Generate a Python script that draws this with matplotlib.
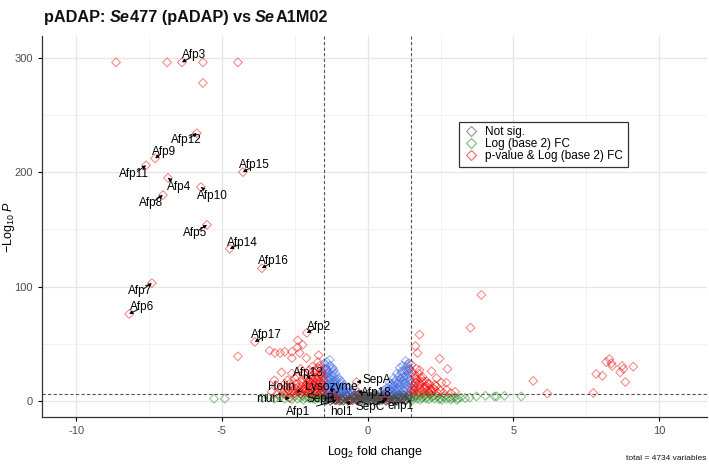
import matplotlib
matplotlib.use("Agg")
import matplotlib.pyplot as plt
from matplotlib.lines import Line2D
from matplotlib.offsetbox import TextArea, HPacker, AnchoredOffsetbox

plt.rcParams['font.family'] = ['Liberation Sans', 'DejaVu Sans']
plt.rcParams['mathtext.fontset'] = 'custom'
plt.rcParams['mathtext.rm'] = 'Liberation Sans'
plt.rcParams['mathtext.it'] = 'Liberation Sans:italic'
plt.rcParams['axes.unicode_minus'] = False

# ---------------- data (log2FC, -log10 P) ----------------
grey_x = [-1.42, -1.12, -0.83, -0.52, -0.21, 0.08, 0.41, 0.72, 1.02, 1.31,
          -1.47, -1.22, -0.94, -0.66, -0.34, -0.06, 0.24, 0.56, 0.86, 1.17, 1.46,
          -1.36, -1.04, -0.77, -0.44, -0.16, 0.17, 0.46, 0.74, 1.06, 1.36,
          -1.41, -1.16, -0.86, -0.55, -0.27, 0.04, 0.36, 0.66, 0.96, 1.26,
          -1.31, -1.01, -0.71, -0.41, -0.12, 0.21, 0.52, 0.81, 1.12, 1.41,
          -1.44, -1.18, -0.91, -0.61, -0.31, 0.01, 0.31, 0.61, 0.92, 1.21,
          -0.05, 0.12, -0.22, 0.28, -0.38, 0.44, -0.6, 0.7, -0.9, 0.95, 1.25, -1.25,
          -0.1, 0.18, -0.3, 0.35, -0.48, 0.58, -0.75, 0.85, -1.05, 1.1, 1.3, -1.35,
          -1.28, -0.97, -0.68, -0.36, -0.02, 0.33, 0.63, 0.98, 1.28, -1.08, -0.58,
          0.14, 0.49, 0.88, 1.19, -0.82, -0.25, 0.27, 0.77, 1.38, -1.46, -0.46,
          -0.14, 0.06, 0.38, -0.7, 0.67, -1.2, 1.05, -0.9, 0.53, -0.33, 0.22, -0.08]
grey_y = [0.5, 0.8, 0.4, 0.7, 0.3, 0.6, 0.5, 0.9, 0.4, 0.7,
          1.6, 1.4, 1.7, 1.3, 1.5, 1.8, 1.4, 1.6, 1.5, 1.3, 1.7,
          2.5, 2.7, 2.4, 2.6, 2.3, 2.8, 2.5, 2.4, 2.6, 2.7,
          3.5, 3.3, 3.7, 3.4, 3.6, 3.5, 3.2, 3.8, 3.4, 3.6,
          4.5, 4.7, 4.3, 4.6, 4.4, 4.8, 4.5, 4.2, 4.6, 4.4,
          5.5, 5.3, 5.7, 5.4, 5.6, 5.5, 5.2, 5.8, 5.4, 5.6,
          0.2, 1.0, 2.0, 3.0, 1.2, 2.2, 0.9, 3.1, 2.1, 1.1, 5.0, 4.0,
          4.9, 3.9, 5.9, 4.1, 2.9, 3.9, 5.1, 4.9, 5.0, 3.0, 0.9, 1.9,
          0.1, 0.2, 0.1, 0.3, 0.1, 0.2, 0.1, 0.2, 0.3, 1.0, 1.1,
          1.1, 0.9, 0.8, 2.0, 2.9, 4.2, 3.3, 1.9, 4.9, 3.9, 5.2,
          2.4, 3.8, 1.5, 5.0, 4.4, 2.2, 5.3, 0.7, 3.0, 0.6, 5.6, 2.7]

green_x = [-1.55, -1.6, -1.7, -1.75, -1.8, -1.9, -2.0, -2.1, -2.2, -2.3, -2.4, -2.5,
           -2.6, -2.7, -2.85, -3.0, -3.2, -3.4, -3.6, -5.27, -4.9, -1.65, -1.95, -2.25, -2.8,
           1.55, 1.6, 1.7, 1.75, 1.8, 1.9, 2.0, 2.05, 2.1, 2.2, 2.3, 2.4, 2.5, 2.6, 2.7,
           2.8, 2.9, 3.0, 3.1, 3.2, 3.35, 3.5, 3.73, 4.04, 4.35, 4.42, 4.69, 5.27,
           1.65, 1.95, 2.25, 2.55, 2.85, 3.05, 1.58, 1.85, 2.15, 2.45, -1.58, -1.88, -2.15]
green_y = [1.0, 3.0, 2.0, 4.0, 1.5, 3.0, 2.0, 4.0, 1.0, 3.0, 2.0, 4.0,
           1.5, 3.0, 2.0, 3.5, 2.0, 3.0, 2.5, 2.0, 2.0, 5.0, 5.0, 5.0, 4.5,
           1.0, 3.0, 2.0, 4.5, 1.0, 3.0, 2.0, 4.0, 1.5, 3.0, 2.0, 4.0, 2.5, 3.5, 2.0,
           3.0, 2.5, 3.5, 2.0, 3.0, 2.5, 3.0, 4.0, 4.5, 4.0, 4.0, 4.5, 4.0,
           5.0, 5.0, 4.8, 1.0, 1.2, 1.0, 5.5, 2.5, 5.5, 1.5, 5.5, 2.0, 2.8]

blue_x = [-1.48, -1.45, -1.42, -1.4, -1.38, -1.35, -1.32, -1.3, -1.28, -1.25,
          -1.3, -1.25, -1.2, -1.15, -1.1, -1.05, -1.0, -0.95, -0.9, -1.2,
          -1.1, -1.0, -0.9, -0.8, -0.7, -0.6, -0.5, -1.45, -1.4, -1.35,
          -1.2, -1.15, -1.05, -0.85, -0.75, -1.45, -1.35, -1.25, -1.1, -0.95,
          -0.65, -0.55, -1.4, -1.3, -1.48,
          -1.47, -1.37, -1.27, -1.17, -1.07, -0.97, -0.87, -0.77, -0.67, -1.43,
          -1.33, -1.23, -1.13, -1.03, -0.93, -0.83, -1.46, -1.36, -1.26, -1.16,
          0.45, 0.55, 0.65, 0.75, 0.85, 0.95, 1.05, 1.15, 1.25, 1.35,
          1.42, 1.3, 1.45, 1.4, 1.35, 1.3, 1.25, 1.2, 1.15, 1.0,
          0.9, 0.8, 0.7, 1.1, 1.05, 0.95, 1.2, 1.4, 1.45, 1.45,
          1.38, 1.1, 1.0, 0.9, 0.75, 0.6, 1.3, 1.48, 1.2, 1.1,
          1.47, 1.37, 1.27, 1.17, 1.07, 0.97, 0.87, 0.77, 0.67, 1.43,
          1.33, 1.23, 1.13, 1.03, 0.93, 0.83, 1.46, 1.36, 1.26, 1.16]
blue_y = [33, 30, 27, 24, 21, 18, 15, 12, 9, 7,
          31, 28, 25, 22, 19, 16, 13, 10, 7, 29,
          24, 20, 17, 14, 11, 8, 7, 12, 9, 7,
          16, 11, 8, 9, 7, 20, 25, 19, 14, 18,
          12, 9, 34, 36, 16,
          23, 13, 10, 14, 12, 8, 12, 9, 8, 28,
          20, 22, 17, 11, 15, 11, 11, 27, 15, 27,
          7, 9, 11, 13, 15, 18, 21, 24, 27, 30,
          33, 35, 28, 24, 20, 16, 12, 9, 7, 8,
          10, 8, 7, 12, 15, 13, 18, 12, 8, 18,
          26, 29, 24, 20, 16, 7, 22, 15, 31, 10,
          22, 14, 18, 15, 17, 10, 13, 10, 9, 28,
          27, 21, 20, 11, 16, 12, 11, 32, 15, 26]

red_x = [-8.63, -6.88, -5.65, -4.45, -5.65,
         -4.45, -3.36, -3.18, -3.0, -2.84, -2.6, -2.4, -2.33, -2.4, -2.23, -2.6, -2.1,
         -1.68, -2.95, -1.7, -2.43, -3.15,
         -1.55, -1.6, -1.62, -1.58, -1.65, -1.7, -1.6, -1.55, -1.75, -1.78, -1.8, -1.72,
         -1.85, -1.9, -1.82, -1.95, -1.98, -2.0, -1.92, -2.05, -2.1, -2.15, -2.2, -2.12,
         -2.25, -2.3, -2.35, -2.4, -2.45, -2.5, -2.55, -2.6, -2.65, -2.7, -2.8, -2.9,
         -3.0, -3.1, -3.3, -2.75, -2.5, -2.2, -2.0, -1.65, -1.7, -1.9, -2.3, -2.6,
         -3.2, -2.85, -1.52,
         -1.57, -1.67, -1.77, -1.87, -1.97, -2.07, -2.17, -2.27, -2.37, -1.53, -1.63,
         -1.73, -1.83, -1.93, -2.03, -2.13, -2.23, -1.59, -1.69, -1.79, -1.89, -1.99,
         -2.09, -1.56, -1.66, -1.76, -1.86, -2.47, -2.57, -2.67, -2.77, -2.87,
         1.55, 1.6, 1.58, 1.65, 1.7, 1.62, 1.75, 1.8, 1.78, 1.85, 1.9, 1.95, 2.0, 2.05,
         2.1, 2.15, 2.2, 2.3, 2.4, 2.5, 2.6, 1.52, 1.68, 1.88, 2.12, 2.35, 2.7, 2.85, 3.0,
         1.57, 1.67, 1.77, 1.87, 1.97, 2.07, 2.17, 1.53, 1.63, 1.73, 1.83, 1.93, 2.25,
         1.78, 1.64, 1.71, 2.47, 2.74, 1.5, 1.78, 2.19, 1.75, 2.36, 2.02, 2.53, 2.7, 2.3,
         1.64, 3.9, 3.53, 5.68, 6.16, 7.74, 7.84, 8.05, 8.18, 8.29, 8.36, 8.39, 8.73,
         8.77, 8.66, 8.84, 9.11]
red_y = [296, 296, 296, 296, 278,
         39, 44, 42, 42, 43, 43, 47, 42, 53, 49, 37.5, 37.5,
         40, 25, 29, 21, 14,
         6, 8, 11, 14, 17, 20, 23, 26, 7, 10, 13, 15,
         18, 22, 25, 6, 9, 12, 15, 17, 20, 8, 11, 14,
         16, 6, 9, 12, 15, 7, 10, 13, 6, 9, 12, 7,
         10, 6, 8, 18, 20, 24, 27, 31, 34, 30, 28, 24,
         18, 15, 19,
         9, 12, 16, 11, 14, 7, 10, 13, 8, 21, 24,
         18, 6.5, 19, 8, 11, 19, 16, 9, 20, 8, 17,
         14, 12, 28, 23, 26, 11, 8, 15, 7, 10,
         7, 10, 13, 16, 19, 22, 8, 11, 14, 17, 7, 10, 13, 9,
         7, 11, 8, 10, 7, 9, 7, 25, 28, 21, 15, 13, 10, 7, 8,
         9, 12, 16, 9, 12, 15, 9, 11, 20, 6.5, 20, 17, 11,
         58, 48, 42, 37, 28, 32, 27, 26, 24, 20, 17, 16, 16, 14,
         16, 92.7, 64, 17.5, 6.5, 7, 23.6, 22, 34, 36.7, 33, 30.6, 30.6,
         28, 25, 16.6, 30]

# labelled genes: name, point (FC, -log10P), label position
lab_names = ["Afp3", "Afp12", "Afp9", "Afp11", "Afp15", "Afp4", "Afp10", "Afp8",
             "Afp5", "Afp14", "Afp16", "Afp7", "Afp6", "Afp2", "Afp17", "Afp13",
             "Holin", "Lysozyme", "SepA", "Afp18", "mur1", "SepB", "Afp1", "hol1",
             "SepC", "enp1"]
lab_x = [-6.37, -5.86, -7.29, -7.6, -4.28, -6.85, -5.72, -7.02,
         -5.51, -4.73, -3.63, -7.4, -8.18, -2.09, -3.87, -2.0,
         -2.26, -1.2, -0.38, -0.34, -2.67, -1.13, -1.06, -0.6,
         0.65, 0.51]
lab_y = [296, 234, 212, 206, 200, 195, 187, 180,
         154, 133, 116, 103, 76, 59.5, 51.6, 18.4,
         8, 7, 16.6, 8, 2.6, 3.5, 0.9, 0.5,
         1.0, 2.6]
text_x = [-5.95, -6.23, -6.99, -8.01, -3.87, -6.47, -5.31, -7.43,
          -5.92, -4.3, -3.23, -7.8, -7.72, -1.68, -3.46, -2.05,
          -2.95, -1.25, 0.32, 0.3, -3.35, -1.62, -2.4, -0.89,
          0.07, 1.12]
text_y = [302, 228, 218, 198.5, 206, 187, 179, 173,
          147, 138, 122, 96, 82, 65, 57.7, 24.5,
          12, 12, 18, 7, 1.7, 1.7, -9.6, -9.6,
          -5, -4.4]

legend_labels = ["Not sig.", "Log (base 2) FC", "p-value & Log (base 2) FC"]

FC_CUT = 1.5
P_CUT = 6

# ---------------- figure ----------------
fig = plt.figure(figsize=(7.09, 4.68), dpi=100)
ax = fig.add_axes([0.0592, 0.109, 0.938, 0.814])

col_grey = (0.30, 0.30, 0.30)
col_green = (0.133, 0.545, 0.133)
col_blue = (0.255, 0.412, 0.882)
col_red = (0.933, 0.0, 0.0)

kw = dict(marker='D', facecolors='none', s=20, linewidths=0.7)
ax.scatter(grey_x, grey_y, edgecolors=[col_grey + (0.85,)], **kw, zorder=3)
ax.scatter(green_x, green_y, edgecolors=[col_green + (0.55,)], **kw, zorder=3)
ax.scatter(blue_x, blue_y, edgecolors=[col_blue + (0.55,)], **kw, zorder=3)
ax.scatter(red_x, red_y, edgecolors=[col_red + (0.5,)], **kw, zorder=3)
ax.scatter(lab_x, lab_y, edgecolors=[col_red + (0.5,)], **kw, zorder=3)

for n, px, py, tx, ty in zip(lab_names, lab_x, lab_y, text_x, text_y):
    ax.annotate(n, xy=(px, py), xytext=(tx, ty), ha='center', va='center',
                fontsize=8.5, color='black', zorder=6,
                arrowprops=dict(arrowstyle='-|>', color='black', lw=0.7,
                                mutation_scale=5, shrinkA=3, shrinkB=0))

ax.axvline(-FC_CUT, color='#555555', lw=0.8, ls=(0, (3, 2)), zorder=2)
ax.axvline(FC_CUT, color='#555555', lw=0.8, ls=(0, (3, 2)), zorder=2)
ax.axhline(P_CUT, color='#555555', lw=0.8, ls=(0, (3, 2)), zorder=2)

ax.set_xlim(-11.17, 11.64)
ax.set_ylim(-14, 319)
ax.set_xticks([-10, -5, 0, 5, 10])
ax.set_yticks([0, 100, 200, 300])
ax.set_xticks([-7.5, -2.5, 2.5, 7.5], minor=True)
ax.set_yticks([50, 150, 250], minor=True)
ax.grid(which='major', color='#e6e6e6', lw=0.9, zorder=0)
ax.grid(which='minor', color='#f0f0f0', lw=0.6, zorder=0)
ax.set_axisbelow(True)
ax.tick_params(which='minor', length=0)
ax.tick_params(which='major', length=3, width=0.8, color='black',
               labelsize=8, labelcolor='#4d4d4d')
for s in ['top', 'right']:
    ax.spines[s].set_visible(False)
for s in ['left', 'bottom']:
    ax.spines[s].set_color('#333333')
    ax.spines[s].set_linewidth(0.9)

ax.set_xlabel(r"$\mathrm{Log}_{2}$ fold change", fontsize=9, labelpad=6)
ax.set_ylabel(r"$-\mathrm{Log}_{10}\ \mathit{P}$", fontsize=9)
ax.yaxis.set_label_coords(-0.037, 0.5)

handles = [Line2D([], [], marker='D', ls='none', markerfacecolor='none',
                  markeredgecolor=c, markersize=5.5, markeredgewidth=0.8)
           for c in [col_grey + (0.6,), col_green + (0.6,), col_red + (0.6,)]]
leg = ax.legend(handles, legend_labels, loc='upper left',
                bbox_to_anchor=(0.627, 0.775), fontsize=8.5, frameon=True,
                fancybox=False, handlelength=1.2, handletextpad=0.6,
                labelspacing=0.0, borderpad=0.4, borderaxespad=0)
leg.get_frame().set_edgecolor('#333333')
leg.get_frame().set_linewidth(0.9)
leg.get_frame().set_alpha(1)

# title with italic "Se"
tkw = dict(fontsize=11.7, fontweight='bold', color='#111111')
parts = [("pADAP: ", 'normal'), ("Se", 'italic'), ("477 (pADAP) vs ", 'normal'),
         ("Se", 'italic'), ("A1M02", 'normal')]
areas = [TextArea(t, textprops=dict(fontstyle=st, **tkw)) for t, st in parts]
box = HPacker(children=areas, align='baseline', pad=0, sep=0)
anch = AnchoredOffsetbox(loc='upper left', child=box, pad=0, frameon=False,
                         bbox_to_anchor=(44 / 709, 1 - 10 / 468),
                         bbox_transform=fig.transFigure, borderpad=0)
fig.add_artist(anch)

fig.text(0.997, 0.012, "total = 4734 variables", ha='right', va='bottom',
         fontsize=6, color='#111111')

fig.savefig("out.png", dpi=100)
